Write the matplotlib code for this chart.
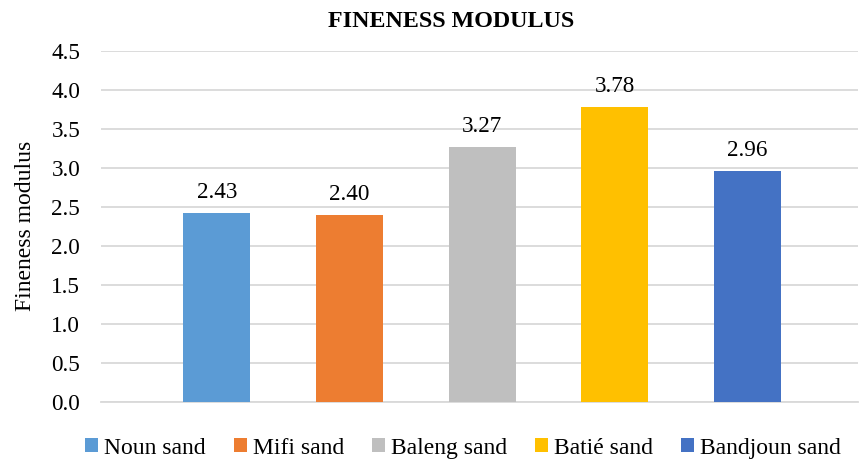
import matplotlib
matplotlib.use("Agg")
import matplotlib.pyplot as plt
from matplotlib.patches import Patch

categories = ["Noun sand", "Mifi sand", "Baleng sand", "Batié sand", "Bandjoun sand"]
values = [2.43, 2.40, 3.27, 3.78, 2.96]
colors = ["#5B9BD5", "#ED7D31", "#BFBFBF", "#FFC000", "#4472C4"]
yticks = [0.0, 0.5, 1.0, 1.5, 2.0, 2.5, 3.0, 3.5, 4.0, 4.5]

plt.rcParams["font.family"] = ["Liberation Serif", "DejaVu Serif"]

fig = plt.figure(figsize=(8.59, 4.61), dpi=100)
W, H = 859, 461
ax = fig.add_axes([101 / W, 1 - 402.3 / H, (858 - 101) / W, (402.3 - 51.3) / H])

x = list(range(len(categories)))
bars = ax.bar(x, values, width=0.505, color=colors, zorder=3)
for xi, v in zip(x, values):
    ax.annotate(f"{v:.2f}", (xi, v), xytext=(0, 10.8), textcoords="offset points",
                ha="center", va="baseline", fontsize=16.7)

ax.set_xlim(-0.874, 4.835)
ax.set_ylim(0, 4.5)
ax.set_yticks(yticks)
ax.set_yticklabels([f"{t:.1f}" for t in yticks], fontsize=16.7)
ax.set_xticks([])
ax.tick_params(axis="y", length=0, pad=15)
ax.grid(axis="y", color="#D9D9D9", linewidth=1.3, zorder=0)
for s in ["top", "right", "left"]:
    ax.spines[s].set_visible(False)
ax.spines["bottom"].set_color("#D9D9D9")
ax.spines["bottom"].set_linewidth(1.3)
ax.set_ylabel("Fineness modulus", fontsize=17)
ax.yaxis.set_label_coords((36 - 101) / (858 - 101), (402.3 - 226) / (402.3 - 51.3))

fig.text(451 / W, 1 - 27.3 / H, "FINENESS MODULUS", ha="center", va="baseline",
         fontsize=17.3, fontweight="bold")

handles = [Patch(facecolor=c) for c in colors]
fig.legend(handles, categories, loc="center", bbox_to_anchor=(463 / W, 1 - 448 / H),
           ncol=5, frameon=False, fontsize=17, handlelength=0.55, handleheight=0.55,
           handletextpad=0.25, columnspacing=1.19, borderpad=0, borderaxespad=0)

fig.savefig("out.png", dpi=100)
